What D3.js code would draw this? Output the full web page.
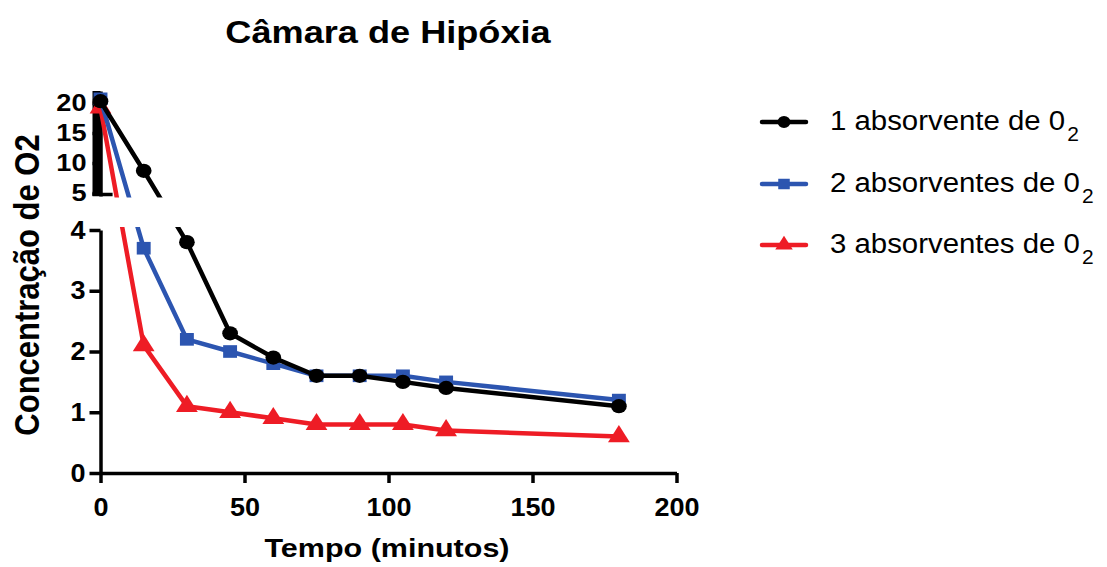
<!DOCTYPE html>
<html>
<head>
<meta charset="utf-8">
<script src="https://cdn.jsdelivr.net/npm/d3@7.9.0/dist/d3.min.js"></script>
<style>
  body { margin: 0; background: #fff; }
  svg { display: block; font-family: "Liberation Sans", Arial, Helvetica, sans-serif; }
</style>
</head>
<body>
<svg width="1107" height="567"></svg>
<script>
// data
const tempos = [0, 15, 30, 45, 60, 75, 90, 105, 120, 180];
const umAbsorvente = [20.3, 8.7, 3.8, 2.3, 1.9, 1.6, 1.6, 1.5, 1.4, 1.1];
const doisAbsorventes = [20.7, 3.7, 2.2, 2.0, 1.8, 1.6, 1.6, 1.6, 1.5, 1.2];
const tresAbsorventes = [19.2, 2.1, 1.1, 1.0, 0.9, 0.8, 0.8, 0.8, 0.7, 0.6];
const seriesNames = ["1 absorvente de 0", "2 absorventes de 0", "3 absorventes de 0"];
const xTicks = [0, 50, 100, 150, 200];
const yTicksLow = [0, 1, 2, 3, 4];
const yTicksHigh = [5, 10, 15, 20];

const series = [
  { name: seriesNames[0], values: umAbsorvente, color: "#000000", shape: d3.symbolCircle },
  { name: seriesNames[1], values: doisAbsorventes, color: "#2c55b0", shape: d3.symbolSquare },
  { name: seriesNames[2], values: tresAbsorventes, color: "#ee1c25", shape: d3.symbolTriangle }
];

const svg = d3.select("svg");

const x = d3.scaleLinear().domain([0, 200]).range([100.5, 676.5]);
// broken axis: lower segment 0-4, upper segment 4.5-22
const y = d3.scaleLinear().domain([0, 4, 4.5, 22]).range([473, 230, 196, 91]);
const yLow = d3.scaleLinear().domain([0, 4]).range([473, 230]);
const yHigh = d3.scaleLinear().domain([4.5, 22]).range([196, 91]);

// clip regions for the two segments
const defs = svg.append("defs");
defs.append("clipPath").attr("id", "clipHigh")
  .append("rect").attr("x", 0).attr("y", 0).attr("width", 1107).attr("height", 197.5);
defs.append("clipPath").attr("id", "clipLow")
  .append("rect").attr("x", 0).attr("y", 227).attr("width", 1107).attr("height", 340);

// the picture's lettering is wider than Liberation Sans, so stretch it a bit
function wideText(parent, px, py, sx, txt) {
  return parent.append("text")
    .attr("transform", `translate(${px},${py}) scale(${sx},1)`)
    .text(txt);
}

// title
wideText(svg, 388, 43, 1.13, "Câmara de Hipóxia")
  .attr("text-anchor", "middle")
  .attr("font-size", 32).attr("font-weight", "bold");

// x axis
const xAxis = svg.append("g")
  .attr("transform", `translate(0,${yLow(0)})`)
  .call(d3.axisBottom(x).tickValues(xTicks).tickSize(10).tickPadding(15).tickSizeOuter(0));

// lower y axis
const yAxisLow = svg.append("g")
  .attr("transform", `translate(${x(0)},0)`)
  .call(d3.axisLeft(yLow).tickValues(yTicksLow).tickFormat(d3.format("d"))
    .tickSize(11).tickPadding(4).tickSizeOuter(0));

// upper y axis
const yAxisHigh = svg.append("g")
  .attr("transform", `translate(${x(0)},0)`)
  .call(d3.axisLeft(yHigh).tickValues(yTicksHigh).tickSize(8).tickPadding(5).tickSizeOuter(0));

[xAxis, yAxisLow, yAxisHigh].forEach(g => {
  g.select(".domain").attr("stroke", "#000").attr("stroke-width", 3.5);
  g.selectAll(".tick line").attr("stroke", "#000").attr("stroke-width", 3.5);
  g.selectAll(".tick text")
    .attr("fill", "#000")
    .attr("font-size", 25).attr("font-weight", "bold")
    .attr("font-family", "'Liberation Sans', Arial, Helvetica, sans-serif");
});
xAxis.selectAll(".tick text").attr("transform", "scale(1.08,1)");
yAxisLow.selectAll(".tick text").attr("x", 0).attr("transform", "translate(-15,0) scale(1.08,1)");
yAxisHigh.selectAll(".tick text")
  .attr("font-size", 23)
  .attr("x", 0).attr("transform", "translate(-14,0) scale(1.18,1)");

// the heavy "L" at the bottom of the upper segment
svg.append("rect")
  .attr("x", x(0) - 8).attr("y", yHigh(22))
  .attr("width", 8).attr("height", yHigh(4.5) - yHigh(22))
  .attr("fill", "#000");
svg.append("line")
  .attr("x1", x(0) - 8).attr("x2", x(4.2))
  .attr("y1", yHigh(4.5) - 1.5).attr("y2", yHigh(4.5) - 1.5)
  .attr("stroke", "#000").attr("stroke-width", 3.5);

// axis titles
wideText(svg, 387, 557, 1.22, "Tempo (minutos)")
  .attr("text-anchor", "middle")
  .attr("font-size", 25).attr("font-weight", "bold");

svg.append("text")
  .attr("transform", "translate(39,285) scale(1.15,1) rotate(-90)")
  .attr("text-anchor", "middle")
  .attr("font-size", 31).attr("font-weight", "bold")
  .text("Concentração de O2");

// lines and markers, drawn in order so black sits on top
const line = d3.line()
  .x((d, i) => x(tempos[i]))
  .y(d => y(d));

const drawOrder = [series[2], series[1], series[0]];

["clipHigh", "clipLow"].forEach(clip => {
  const g = svg.append("g").attr("clip-path", `url(#${clip})`);
  drawOrder.forEach(s => {
    g.append("path")
      .datum(s.values)
      .attr("d", line)
      .attr("fill", "none")
      .attr("stroke", s.color)
      .attr("stroke-width", 4.5)
      .attr("stroke-linejoin", "round")
      .attr("stroke-linecap", "round");
    g.selectAll(null)
      .data(s.values)
      .join("path")
      .attr("transform", (d, i) => `translate(${x(tempos[i])},${y(d)}) scale(1.1,1)`)
      .attr("d", d3.symbol().type(s.shape).size(s.shape === d3.symbolTriangle ? 170 : 160))
      .attr("fill", s.color);
  });
});

// legend
const legend = svg.append("g");
const legendY = [122, 184, 245];
series.forEach((s, i) => {
  const row = legend.append("g").attr("transform", `translate(0,${legendY[i]})`);
  row.append("line")
    .attr("x1", 762).attr("x2", 806)
    .attr("stroke", s.color).attr("stroke-width", 4.5)
    .attr("stroke-linecap", "round");
  row.append("path")
    .attr("transform", "translate(784,0) scale(1.1,1)")
    .attr("d", d3.symbol().type(s.shape).size(110))
    .attr("fill", s.color);
  const main = wideText(row, 830, 8, 1.05, s.name)
    .attr("font-size", 28)
    .attr("fill", "#000");
  const w = main.node().getComputedTextLength() * 1.05;
  wideText(row, 830 + w + 2, 19, 1.05, "2")
    .attr("font-size", 20)
    .attr("fill", "#000");
});
</script>
</body>
</html>
